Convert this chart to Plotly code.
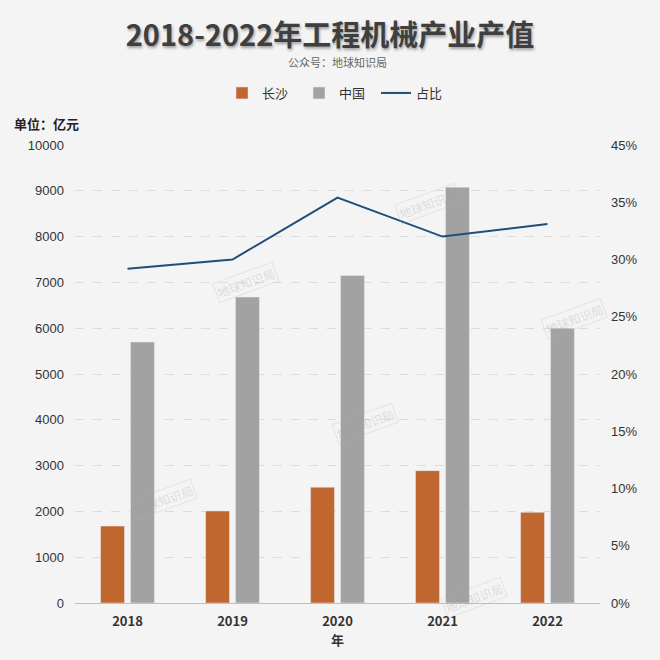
import plotly.graph_objects as go

# data
years = ["2018", "2019", "2020", "2021", "2022"]
changsha = [1680, 2010, 2530, 2890, 1980]
china = [5700, 6680, 7150, 9080, 6000]
share = [0.292, 0.300, 0.354, 0.320, 0.331]

left_ticks = list(range(0, 10001, 1000))
right_ticks = [0, 0.05, 0.10, 0.15, 0.20, 0.25, 0.30, 0.35, 0.40]
right_labels = ["0%", "5%", "10%", "15%", "20%", "25%", "30%", "35%", "45%"]

font_cn = "Noto Sans CJK SC"
bg = "#f4f4f4"
plot_h = 458

fig = go.Figure()

fig.add_trace(go.Bar(
    x=years, y=changsha, name="长沙",
    marker=dict(color="#c0672f"),
))
fig.add_trace(go.Bar(
    x=years, y=china, name="中国",
    marker=dict(color="#a2a2a2"),
))
fig.add_trace(go.Scatter(
    x=years, y=share, name="占比", yaxis="y2",
    mode="lines", line=dict(color="#1f4e79", width=2),
))

# faint watermarks
marks = [(212, 262), (462, 183), (365, 423), (608, 318), (130, 520), (508, 618)]
for mx, my in marks:
    fig.add_annotation(
        x=(mx - 75) / 525, y=(603 - my) / plot_h, xref="paper", yref="paper",
        text="地球知识局", showarrow=False, textangle=-20,
        font=dict(family=font_cn, size=12, color="rgba(160,160,160,0.3)"),
        bordercolor="rgba(180,180,180,0.25)", borderwidth=1, borderpad=1,
    )

fig.add_annotation(
    x=-63 / 525, y=1 + 21 / plot_h, xref="paper", yref="paper",
    xanchor="left", yanchor="middle", showarrow=False,
    text="<b>单位：亿元</b>",
    font=dict(family=font_cn, size=13, color="#222222"),
)
fig.add_annotation(
    x=0.5, y=1 + 83 / plot_h, xref="paper", yref="paper",
    xanchor="center", yanchor="middle", showarrow=False,
    text="公众号：地球知识局",
    font=dict(family=font_cn, size=11, color="#666666"),
)

fig.update_layout(
    width=660, height=660,
    margin=dict(l=75, r=60, t=145, b=57),
    paper_bgcolor=bg, plot_bgcolor=bg,
    title=dict(
        text="<b>2018-2022年工程机械产业产值</b>",
        x=0.5, xanchor="center", y=1 - 36 / 660, yanchor="middle",
        font=dict(family=font_cn, size=29, color="#3f3f3f",
                  shadow="1px 2px 3px rgba(0,0,0,0.35)"),
    ),
    barmode="group", bargap=0.43, bargroupgap=0.2,
    legend=dict(
        orientation="h", x=0.5, xanchor="center", y=1 + 52 / plot_h, yanchor="middle",
        font=dict(family=font_cn, size=13, color="#333333"),
        bgcolor="rgba(0,0,0,0)", itemwidth=30,
        entrywidth=32, entrywidthmode="pixels",
    ),
    xaxis=dict(
        type="category", showgrid=False, showline=True, automargin=False,
        linecolor="#bfbfbf", linewidth=1, ticks="", ticklabelstandoff=6,
        tickvals=years, ticktext=["<b>%s</b>" % y for y in years],
        tickfont=dict(family=font_cn, size=13, color="#333333"),
        title=dict(text="<b>年</b>", standoff=4,
                   font=dict(family=font_cn, size=13, color="#333333")),
    ),
    yaxis=dict(
        range=[0, 10000], tickvals=left_ticks, tickformat="d", showgrid=True,
        gridcolor="#dcdcdc", griddash="dash", gridwidth=1, automargin=False,
        zeroline=False, showline=False, ticks="", ticklabelstandoff=10,
        tickfont=dict(family="Liberation Sans", size=13, color="#333333"),
    ),
    yaxis2=dict(
        overlaying="y", side="right", range=[0, 0.40], automargin=False,
        tickvals=right_ticks, ticktext=right_labels, ticklabelstandoff=10,
        showgrid=False, zeroline=False, showline=False, ticks="",
        tickfont=dict(family="Liberation Sans", size=13, color="#333333"),
    ),
    font=dict(family=font_cn),
)

fig.write_html("out.html", config={"displayModeBar": False},
               post_script="document.body.style.margin='0';")
